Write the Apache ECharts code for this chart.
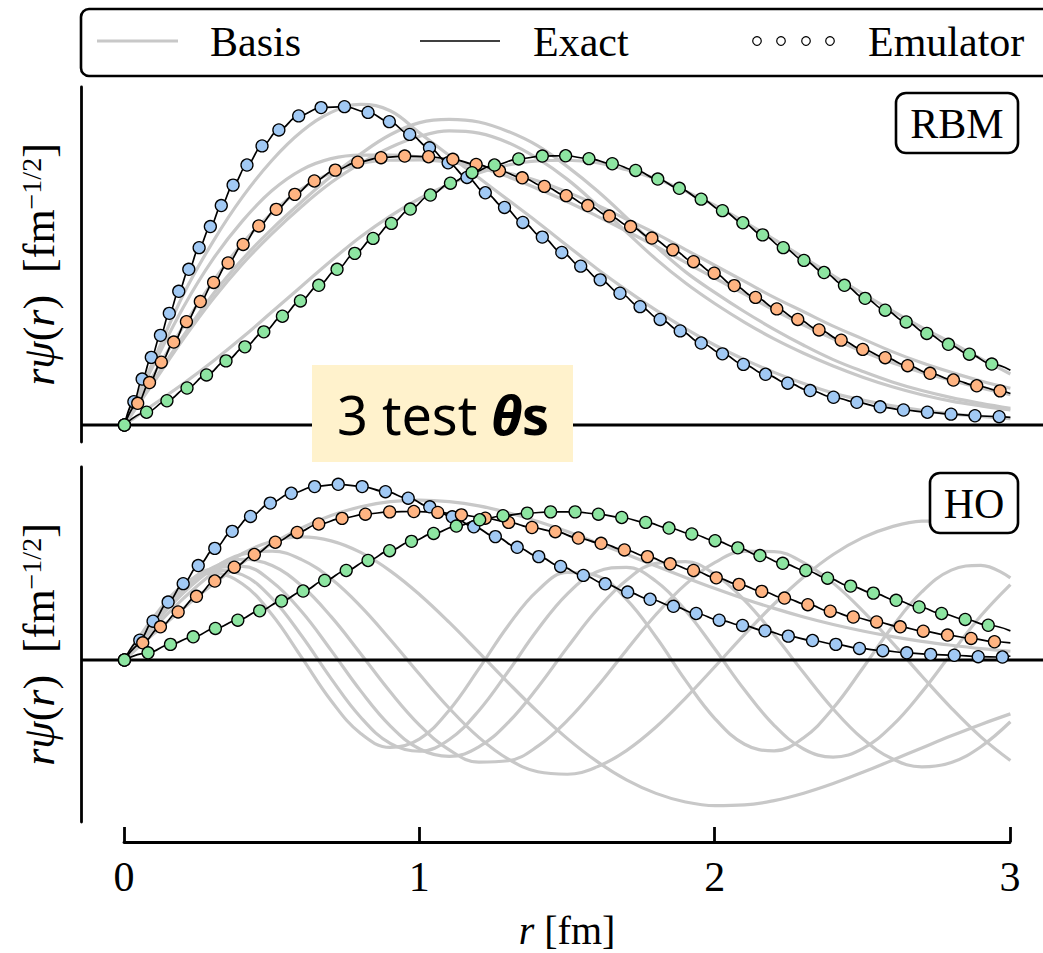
<!DOCTYPE html>
<html><head><meta charset="utf-8">
<script src="https://cdn.jsdelivr.net/npm/echarts@6/dist/echarts.min.js"></script>
<style>html,body{margin:0;padding:0;background:#fff}#c{width:1043px;height:953px}</style>
</head><body><div id="c"></div>
<script>
// ---------- data ----------
const xTicks = [0, 1, 2, 3];
const rGrid = [0,0.1,0.2,0.3,0.4,0.5,0.6,0.7,0.8,0.9,1.0,1.1,1.2,1.3,1.4,1.5,1.6,1.7,1.8,1.9,2.0,2.1,2.2,2.3,2.4,2.5,2.6,2.7,2.8,2.9,3.0];
// HO basis (n = 0..6)
const ho0 = [0,0.150,0.295,0.431,0.555,0.663,0.753,0.823,0.873,0.902,0.911,0.902,0.878,0.839,0.789,0.732,0.668,0.602,0.535,0.470,0.407,0.348,0.294,0.245,0.202,0.165,0.133,0.106,0.084,0.065,0.050];
const ho1 = [0,0.182,0.351,0.496,0.607,0.677,0.701,0.679,0.613,0.508,0.372,0.214,0.043,-0.130,-0.296,-0.448,-0.578,-0.683,-0.760,-0.809,-0.830,-0.826,-0.801,-0.759,-0.704,-0.640,-0.571,-0.501,-0.432,-0.367,-0.307];
const ho2 = [0,0.202,0.382,0.520,0.603,0.620,0.572,0.463,0.306,0.117,-0.083,-0.275,-0.441,-0.565,-0.637,-0.651,-0.609,-0.516,-0.382,-0.217,-0.037,0.146,0.319,0.473,0.601,0.697,0.760,0.791,0.793,0.770,0.727];
const ho3 = [0,0.217,0.401,0.527,0.574,0.538,0.423,0.247,0.036,-0.181,-0.372,-0.512,-0.582,-0.574,-0.491,-0.344,-0.154,0.056,0.259,0.431,0.556,0.619,0.618,0.555,0.438,0.280,0.099,-0.091,-0.274,-0.438,-0.573];
const ho4 = [0,0.228,0.414,0.522,0.533,0.446,0.276,0.055,-0.176,-0.375,-0.507,-0.549,-0.495,-0.355,-0.155,0.072,0.286,0.455,0.551,0.561,0.487,0.340,0.144,-0.073,-0.279,-0.449,-0.563,-0.609,-0.584,-0.494,-0.352];
const ho5 = [0,0.238,0.422,0.511,0.485,0.351,0.138,-0.106,-0.326,-0.475,-0.520,-0.453,-0.289,-0.064,0.175,0.377,0.503,0.528,0.449,0.282,0.061,-0.171,-0.372,-0.507,-0.553,-0.505,-0.374,-0.183,0.037,0.252,0.430];
const ho6 = [0,0.246,0.427,0.495,0.433,0.258,0.015,-0.232,-0.419,-0.498,-0.449,-0.286,-0.051,0.197,0.397,0.499,0.480,0.346,0.131,-0.116,-0.335,-0.480,-0.518,-0.443,-0.274,-0.047,0.189,0.388,0.512,0.539,0.468];
// RBM basis (same r grid)
const rbmA = [0,0.205,0.410,0.575,0.715,0.830,0.920,0.980,1.005,0.985,0.915,0.845,0.775,0.705,0.635,0.562,0.490,0.423,0.360,0.302,0.250,0.205,0.165,0.130,0.100,0.078,0.060,0.046,0.035,0.027,0.020];
const rbmB = [0,0.140,0.280,0.410,0.520,0.615,0.700,0.780,0.850,0.910,0.948,0.958,0.950,0.920,0.875,0.810,0.735,0.650,0.560,0.480,0.415,0.355,0.300,0.250,0.205,0.168,0.135,0.108,0.086,0.068,0.052];
const rbmC = [0,0.135,0.270,0.395,0.505,0.600,0.685,0.760,0.820,0.870,0.905,0.922,0.915,0.885,0.835,0.770,0.690,0.605,0.520,0.445,0.380,0.322,0.270,0.225,0.185,0.150,0.120,0.095,0.075,0.060,0.047];
const rbmD = [0,0.190,0.370,0.520,0.640,0.735,0.800,0.835,0.846,0.846,0.840,0.828,0.808,0.778,0.740,0.700,0.655,0.608,0.560,0.510,0.460,0.410,0.360,0.313,0.270,0.230,0.195,0.165,0.140,0.116,0.095];
const rbmE = [0,0.160,0.310,0.450,0.570,0.665,0.740,0.790,0.820,0.830,0.831,0.824,0.810,0.790,0.765,0.730,0.690,0.645,0.600,0.550,0.500,0.450,0.400,0.355,0.310,0.270,0.230,0.195,0.165,0.138,0.115];
const rbmF = [0,0.065,0.130,0.200,0.275,0.355,0.435,0.515,0.590,0.655,0.710,0.755,0.790,0.815,0.828,0.830,0.822,0.800,0.772,0.733,0.688,0.636,0.582,0.525,0.468,0.412,0.358,0.306,0.258,0.208,0.160];
// emulator points, RBM panel
const rbmEmuBlue = [[0,0],[0.032,0.073],[0.060,0.144],[0.091,0.212],[0.122,0.281],[0.152,0.350],[0.184,0.419],[0.218,0.488],[0.253,0.556],[0.291,0.622],[0.328,0.688],[0.368,0.752],[0.415,0.815],[0.466,0.875],[0.523,0.925],[0.590,0.969],[0.666,0.995],[0.745,0.998],[0.825,0.980],[0.897,0.951],[0.966,0.911],[1.033,0.869],[1.096,0.822],[1.160,0.776],[1.222,0.728],[1.287,0.682],[1.349,0.635],[1.415,0.589],[1.481,0.541],[1.545,0.498],[1.611,0.455],[1.678,0.413],[1.746,0.371],[1.814,0.331],[1.882,0.295],[1.953,0.257],[2.025,0.223],[2.096,0.190],[2.171,0.159],[2.246,0.131],[2.322,0.108],[2.401,0.087],[2.480,0.071],[2.559,0.057],[2.638,0.047],[2.719,0.040],[2.799,0.034],[2.880,0.029],[2.962,0.026]];
const rbmEmuOrange = [[0,0],[0.045,0.068],[0.085,0.133],[0.125,0.197],[0.167,0.260],[0.210,0.324],[0.257,0.387],[0.302,0.447],[0.351,0.508],[0.402,0.566],[0.455,0.624],[0.514,0.676],[0.577,0.723],[0.643,0.765],[0.714,0.799],[0.790,0.824],[0.869,0.838],[0.949,0.843],[1.030,0.841],[1.112,0.833],[1.191,0.817],[1.270,0.797],[1.347,0.775],[1.422,0.748],[1.496,0.719],[1.569,0.688],[1.642,0.655],[1.714,0.622],[1.786,0.586],[1.857,0.549],[1.927,0.512],[1.997,0.476],[2.065,0.437],[2.137,0.400],[2.209,0.364],[2.280,0.331],[2.352,0.298],[2.427,0.266],[2.500,0.237],[2.576,0.211],[2.652,0.186],[2.728,0.162],[2.807,0.141],[2.886,0.123],[2.965,0.107]];
const rbmEmuGreen = [[0,0],[0.075,0.040],[0.144,0.076],[0.212,0.116],[0.278,0.157],[0.344,0.201],[0.408,0.245],[0.472,0.292],[0.535,0.341],[0.596,0.389],[0.658,0.438],[0.720,0.488],[0.780,0.538],[0.842,0.585],[0.904,0.632],[0.968,0.677],[1.036,0.721],[1.104,0.758],[1.177,0.791],[1.253,0.815],[1.335,0.834],[1.415,0.843],[1.494,0.844],[1.573,0.835],[1.652,0.819],[1.731,0.798],[1.806,0.771],[1.879,0.742],[1.953,0.708],[2.025,0.672],[2.094,0.634],[2.161,0.596],[2.231,0.556],[2.301,0.516],[2.369,0.478],[2.438,0.438],[2.508,0.397],[2.576,0.360],[2.647,0.323],[2.717,0.287],[2.790,0.253],[2.861,0.222],[2.937,0.191]];
const rbmExactEnd = [0.024, 0.099, 0.172]; // value at r = 3 fm: blue, orange, green
// emulator points, HO panel
const hoEmuBlue = [[0,0],[0.052,0.113],[0.097,0.221],[0.148,0.330],[0.199,0.435],[0.250,0.538],[0.306,0.636],[0.365,0.733],[0.427,0.818],[0.494,0.894],[0.565,0.950],[0.644,0.988],[0.724,1.001],[0.805,0.988],[0.884,0.959],[0.961,0.922],[1.034,0.873],[1.110,0.816],[1.183,0.759],[1.256,0.703],[1.330,0.642],[1.403,0.589],[1.477,0.533],[1.554,0.482],[1.628,0.434],[1.704,0.387],[1.780,0.346],[1.859,0.306],[1.936,0.265],[2.014,0.227],[2.093,0.197],[2.169,0.166],[2.248,0.136],[2.330,0.111],[2.409,0.089],[2.489,0.066],[2.568,0.053],[2.649,0.041],[2.730,0.032],[2.810,0.027],[2.891,0.019],[2.973,0.017]];
const hoEmuOrange = [[0,0],[0.062,0.098],[0.122,0.189],[0.182,0.274],[0.244,0.363],[0.306,0.450],[0.372,0.529],[0.440,0.601],[0.511,0.671],[0.585,0.727],[0.658,0.775],[0.737,0.807],[0.816,0.831],[0.898,0.844],[0.980,0.846],[1.061,0.841],[1.141,0.827],[1.222,0.808],[1.301,0.784],[1.380,0.755],[1.459,0.731],[1.537,0.695],[1.614,0.665],[1.693,0.627],[1.771,0.589],[1.848,0.548],[1.927,0.510],[2.004,0.468],[2.081,0.431],[2.158,0.391],[2.235,0.353],[2.314,0.315],[2.390,0.278],[2.468,0.245],[2.547,0.217],[2.627,0.189],[2.705,0.164],[2.787,0.142],[2.867,0.123],[2.946,0.104]];
const hoEmuGreen = [[0,0],[0.080,0.041],[0.156,0.089],[0.233,0.132],[0.308,0.180],[0.384,0.227],[0.458,0.280],[0.532,0.336],[0.605,0.393],[0.678,0.453],[0.751,0.510],[0.825,0.567],[0.898,0.623],[0.972,0.676],[1.047,0.721],[1.124,0.763],[1.203,0.799],[1.282,0.822],[1.364,0.837],[1.443,0.844],[1.526,0.844],[1.605,0.831],[1.684,0.812],[1.765,0.784],[1.844,0.752],[1.921,0.718],[2.000,0.680],[2.077,0.639],[2.152,0.595],[2.229,0.551],[2.307,0.510],[2.381,0.466],[2.459,0.421],[2.536,0.381],[2.613,0.340],[2.691,0.302],[2.767,0.265],[2.847,0.231],[2.925,0.198]];
const hoExactEnd = [0.023, 0.098, 0.166];
const legendLabels = ['Basis', 'Exact', 'Emulator'];
const panelLabels = ['RBM', 'HO'];

// ---------- style ----------
const testColors = ['#a1c9f4', '#ffb482', '#8de5a1'];
const GRAY = '#c8c8c8';
const SERIF = 'Liberation Serif';
const X_MIN = -0.147, X_MAX = 3.1104;

function zip(xs, ys) { return xs.map((x, i) => [x, ys[i]]); }

const series = [];
function addBasis(idx, xs, ys) {
  series.push({ type: 'line', xAxisIndex: idx, yAxisIndex: idx, data: zip(xs, ys),
    smooth: 0.4, showSymbol: false, silent: true, z: 2,
    lineStyle: { color: GRAY, width: 3.2 } });
}
[rbmA, rbmB, rbmC, rbmD, rbmE, rbmF].forEach(ys => addBasis(0, rGrid, ys));
[ho0, ho1, ho2, ho3, ho4, ho5, ho6].forEach(ys => addBasis(1, rGrid, ys));

[0, 1].forEach(idx => {
  series.push({ type: 'line', xAxisIndex: idx, yAxisIndex: idx, data: [[X_MIN, 0], [X_MAX, 0]],
    showSymbol: false, silent: true, z: 3, lineStyle: { color: '#000', width: 2.8 } });
});

function addTest(idx, pts, endY, color, k) {
  series.push({ type: 'line', xAxisIndex: idx, yAxisIndex: idx, data: pts.concat([[3.0, endY]]),
    smooth: 0.4, smoothMonotone: 'x', showSymbol: false, silent: true, z: 4,
    lineStyle: { color: '#000', width: 1.7 } });
  series.push({ type: 'scatter', xAxisIndex: idx, yAxisIndex: idx, data: pts,
    symbol: 'circle', symbolSize: 12, silent: true, z: 5 + k,
    itemStyle: { color: color, borderColor: '#000', borderWidth: 1.3, opacity: 1 } });
}
const rbmEmu = [rbmEmuBlue, rbmEmuOrange, rbmEmuGreen];
const hoEmu = [hoEmuBlue, hoEmuOrange, hoEmuGreen];
rbmEmu.forEach((p, k) => addTest(0, p, rbmExactEnd[k], testColors[k], k));
hoEmu.forEach((p, k) => addTest(1, p, hoExactEnd[k], testColors[k], k));
series.push({ type: 'line', xAxisIndex: 2, yAxisIndex: 2, data: [], silent: true });

const yName = '{i|rψ}({i|r})  [fm{s|−1/2}]';
const yNameStyle = { fontFamily: SERIF, fontSize: 44, color: '#000', verticalAlign: 'bottom',
  rich: { i: { fontFamily: SERIF, fontSize: 44, fontStyle: 'italic' },
          s: { fontFamily: SERIF, fontSize: 28, verticalAlign: 'top', lineHeight: 20 } } };
const yAxisCommon = {
  axisLine: { show: true, onZero: false, lineStyle: { color: '#000', width: 2.8 } },
  axisTick: { show: false }, axisLabel: { show: false }, splitLine: { show: false },
  name: yName, nameLocation: 'middle', nameGap: 20, nameRotate: 90, nameTextStyle: yNameStyle
};
function txt(x, y, s, align) {
  return { type: 'text', z: 101, x: x, y: y,
    style: { text: s, fontFamily: SERIF, fontSize: 42, fill: '#000', align: align || 'left', verticalAlign: 'middle' } };
}

const chart = echarts.init(document.getElementById('c'), null, { renderer: 'svg' });
chart.setOption({
  animation: false,
  backgroundColor: '#fff',
  grid: [
    { left: 81, right: 0, top: 87, height: 355 },
    { left: 81, right: 0, top: 467, height: 355 },
    { left: 124, right: 33, top: 830, height: 12 }
  ],
  xAxis: [
    { gridIndex: 0, type: 'value', min: X_MIN, max: X_MAX, show: false },
    { gridIndex: 1, type: 'value', min: X_MIN, max: X_MAX, show: false },
    { gridIndex: 2, type: 'value', min: xTicks[0], max: xTicks[xTicks.length - 1], interval: 1,
      position: 'bottom',
      axisLine: { show: true, onZero: false, lineStyle: { color: '#000', width: 2.8 } },
      axisTick: { show: true, inside: true, length: 15, lineStyle: { color: '#000', width: 2.8 } },
      axisLabel: { fontFamily: SERIF, fontSize: 42, color: '#000', margin: 14 },
      splitLine: { show: false },
      name: '{i|r} [fm]', nameLocation: 'middle', nameGap: 68,
      nameTextStyle: { fontFamily: SERIF, fontSize: 40, color: '#000', verticalAlign: 'top',
        rich: { i: { fontFamily: SERIF, fontSize: 40, fontStyle: 'italic' } } } }
  ],
  yAxis: [
    Object.assign({ gridIndex: 0, type: 'value', min: -0.0533, max: 1.0596 }, yAxisCommon),
    Object.assign({ gridIndex: 1, type: 'value', min: -0.9231, max: 1.0997 }, yAxisCommon),
    { gridIndex: 2, type: 'value', min: 0, max: 1, show: false }
  ],
  series: series,
  graphic: [
    // legend
    { type: 'rect', z: 100, shape: { x: 81, y: 9, width: 1000, height: 67, r: 8 },
      style: { fill: '#fff', stroke: '#000', lineWidth: 2.6 } },
    { type: 'line', z: 101, shape: { x1: 97, y1: 41, x2: 178, y2: 41 }, style: { stroke: GRAY, lineWidth: 3.2 } },
    { type: 'line', z: 101, shape: { x1: 420, y1: 41, x2: 500, y2: 41 }, style: { stroke: '#000', lineWidth: 1.7 } },
    ...[757, 781, 806, 830].map(cx => ({ type: 'circle', z: 101, shape: { cx: cx, cy: 41, r: 4.3 },
      style: { fill: '#fff', stroke: '#000', lineWidth: 1.2 } })),
    txt(210, 42, legendLabels[0]), txt(533, 42, legendLabels[1]), txt(868, 42, legendLabels[2]),
    // panel labels
    { type: 'rect', z: 100, shape: { x: 896, y: 93, width: 122, height: 60, r: 10 },
      style: { fill: '#fff', stroke: '#000', lineWidth: 2.6 } },
    txt(957, 124, panelLabels[0], 'center'),
    { type: 'rect', z: 100, shape: { x: 930, y: 473, width: 88, height: 60, r: 10 },
      style: { fill: '#fff', stroke: '#000', lineWidth: 2.6 } },
    txt(974, 504, panelLabels[1], 'center'),
    // annotation
    { type: 'rect', z: 110, shape: { x: 312, y: 365, width: 261, height: 97 }, style: { fill: '#fff2cc' } },
    { type: 'text', z: 111, x: 443, y: 414,
      style: { text: '3 test {b|θ}{c|s}', align: 'center', verticalAlign: 'middle',
        fontFamily: 'Noto Sans', fontSize: 54, fill: '#000',
        rich: { b: { fontFamily: 'Noto Sans', fontSize: 54, fontWeight: 'bold', fontStyle: 'italic', fill: '#000' },
                c: { fontFamily: 'Noto Sans', fontSize: 54, fontWeight: 'bold', fill: '#000' } } } }
  ]
});
</script></body></html>
